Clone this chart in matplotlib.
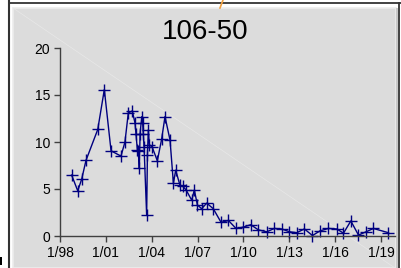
import matplotlib.pyplot as plt
from matplotlib.patches import Rectangle
from matplotlib.lines import Line2D

# fechas en años decimales y valores
anios = [1998.76, 1999.16, 1999.42, 1999.70, 2000.47, 2000.90, 2001.34, 2001.99,
         2002.25, 2002.47, 2002.73, 2002.91, 2002.97, 2003.06, 2003.13, 2003.19,
         2003.24, 2003.35, 2003.41, 2003.45, 2003.50, 2003.67, 2003.72, 2003.78,
         2003.85, 2004.02, 2004.37, 2004.65, 2004.87, 2005.20, 2005.42, 2005.57,
         2005.85, 2006.03, 2006.25, 2006.62, 2006.79, 2006.99, 2007.27, 2007.60,
         2008.03, 2008.54, 2009.02, 2009.52, 2010.00, 2010.48, 2010.98, 2011.53,
         2012.03, 2012.51, 2013.01, 2013.49, 2013.99, 2014.52, 2015.02, 2015.56,
         2016.11, 2016.55, 2017.03, 2017.53, 2018.03, 2018.51, 2019.49]
valores = [6.48, 4.81, 6.05, 8.04, 11.33, 15.58, 9.06, 8.50,
           10.0, 13.1, 13.3, 12.0, 10.9, 9.2, 9.0, 7.2,
           10.9, 12.7, 12.0, 10.9, 9.5, 2.2, 8.6, 11.3,
           9.7, 9.5, 8.0, 10.3, 12.7, 10.2, 5.6, 7.0,
           5.4, 5.3, 4.9, 3.8, 4.9, 3.3, 2.9, 3.5,
           2.9, 1.45, 1.65, 0.8, 0.95, 1.2, 0.65, 0.45,
           0.8, 0.75, 0.45, 0.35, 0.75, 0.05, 0.55, 0.8,
           0.75, 0.3, 1.6, 0.1, 0.45, 0.8, 0.35]

ticks_x = [1998, 2001, 2004, 2007, 2010, 2013, 2016, 2019]
etiquetas_x = ['1/98', '1/01', '1/04', '1/07', '1/10', '1/13', '1/16', '1/19']
ticks_y = [0, 5, 10, 15, 20]

W, H = 401, 268
fig = plt.figure(figsize=(W / 100, H / 100), dpi=100)
fig.patch.set_facecolor('white')

# marco y panel gris (detrás de los ejes)
fig.patches.append(Rectangle((13 / W, 0), (396 - 13) / W, (H - 8) / H,
                             transform=fig.transFigure, facecolor='#dcdcdc',
                             edgecolor='#ececec', linewidth=1.2, zorder=-3))
fig.patches.append(Rectangle((396 / W, 0), 2 / W, (H - 8) / H,
                             transform=fig.transFigure, facecolor='#c8c8c8',
                             edgecolor='none', zorder=-3))
fig.lines.append(Line2D([8.5 / W, 8.5 / W], [0, 1], transform=fig.transFigure,
                        color='#333333', linewidth=1.5, zorder=-2))
fig.lines.append(Line2D([8.5 / W, 1], [1 - 3 / H, 1 - 3 / H], transform=fig.transFigure,
                        color='#333333', linewidth=1.3, zorder=-2))
fig.lines.append(Line2D([398.5 / W, 398.5 / W], [0, 1 - 3 / H], transform=fig.transFigure,
                        color='#333333', linewidth=1.3, zorder=-2))
fig.lines.append(Line2D([220 / W, 223 / W], [1 - 8 / H, 1], transform=fig.transFigure,
                        color='#f0a040', linewidth=1.2, zorder=-2))
fig.lines.append(Line2D([13 / W, 395 / W], [1 - 8 / H, 0], transform=fig.transFigure,
                        color='#e8e8e8', linewidth=0.5, zorder=-2))
fig.patches.append(Rectangle((0, 3 / H), 2 / W, 8 / H, transform=fig.transFigure,
                             facecolor='black', edgecolor='none', zorder=-2))

ax = fig.add_axes([60 / W, (H - 236) / H, (395 - 60) / W, (236 - 48) / H])
ax.set_zorder(5)
ax.set_facecolor('none')
ax.plot(anios, valores, color='#000080', linewidth=1.0, marker='+',
        markersize=9, markeredgewidth=1.0, clip_on=False)

ax.set_xlim(1998, 2019.92)
ax.set_ylim(0, 20)
ax.set_xticks(ticks_x)
ax.set_xticklabels(etiquetas_x)
ax.set_yticks(ticks_y)
for s in ['top', 'right']:
    ax.spines[s].set_visible(False)
for s in ['left', 'bottom']:
    ax.spines[s].set_color('#404040')
    ax.spines[s].set_linewidth(1.0)
ax.tick_params(direction='out', length=4, width=1, color='#404040',
               labelsize=10, labelcolor='black', pad=3)
for lab in ax.get_xticklabels() + ax.get_yticklabels():
    lab.set_family('Liberation Sans')

fig.text(205 / W, 1 - 32 / H, '106-50', ha='center', va='center',
         fontsize=20, family='Liberation Sans')

fig.savefig('out.png', dpi=100)
